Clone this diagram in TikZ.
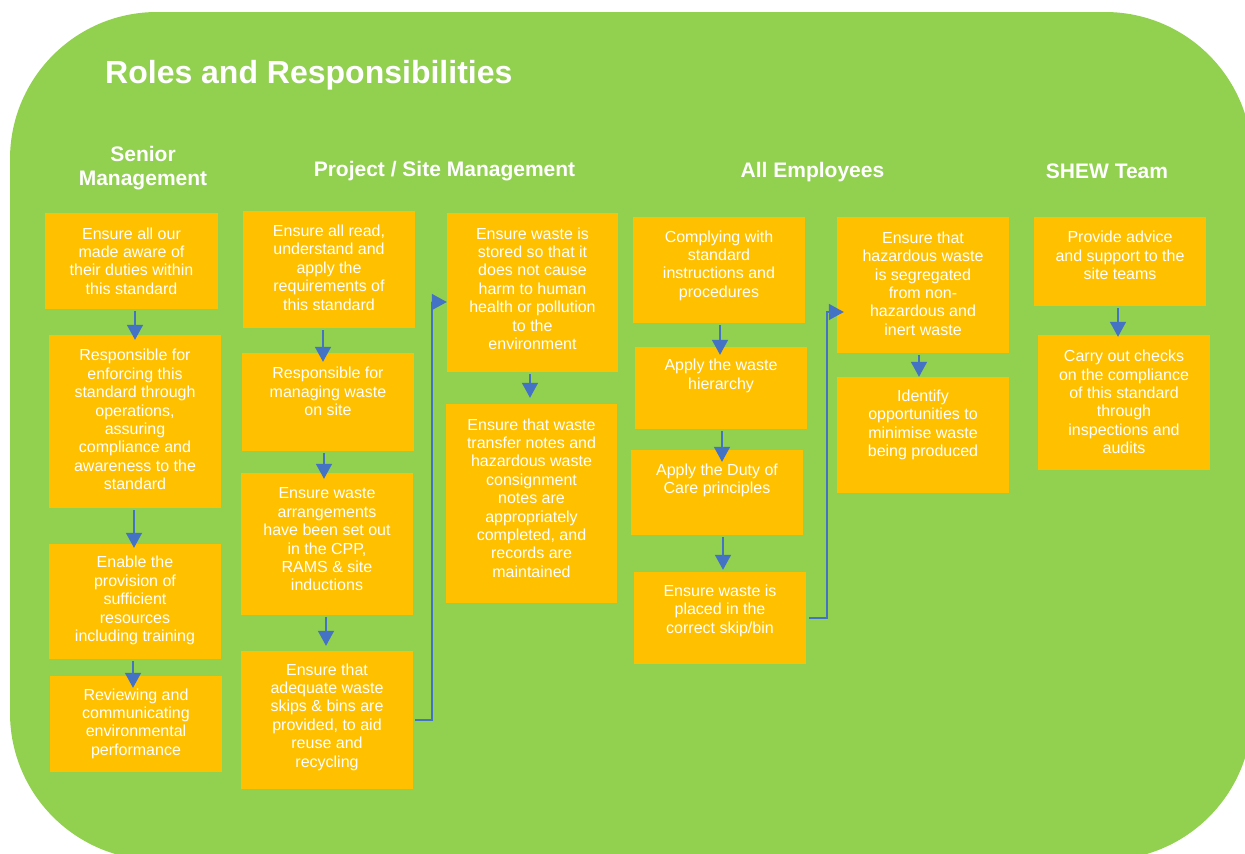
\documentclass[tikz,border=0pt]{standalone}
\usepackage{fontspec}
\setmainfont{Liberation Sans}
\usetikzlibrary{arrows.meta,calc}

\definecolor{leaf}{HTML}{92D050}
\definecolor{amber}{HTML}{FFC000}
\definecolor{linkblue}{HTML}{4472C4}

\tikzset{
  panel/.style={fill=leaf, rounded corners=147pt},
  box/.style={fill=amber, draw=none, inner sep=0pt},
  boxtext/.style={text=white, align=center, inner sep=0pt,
    font=\fontsize{16}{18.4}\selectfont},
  heading/.style={text=white, align=center, inner sep=0pt,
    font=\fontsize{21}{24}\selectfont\bfseries},
  pagetitle/.style={text=white, inner sep=0pt,
    font=\fontsize{32}{36}\selectfont\bfseries},
  link/.style={draw=linkblue, line width=1.5pt,
    -{Triangle[length=15pt,width=16pt]}},
}

% #1 name, #2 centre x, #3 centre y, #4 width, #5 height, #6 text centre y, #7 text
\newcommand\taskbox[7]{%
  \node[box, minimum width=#4pt, minimum height=#5pt] (#1) at (#2,#3) {};
  \node[boxtext] (#1t) at (#2,#6) {#7};}

% vertical arrow: #1 from, #2 to, #3 x offset at start, #4 x offset at end, #5 end shortening
\newcommand\flow[5]{%
  \draw[link, shorten <=2pt, shorten >=#5pt]
    ($(#1.south)+(#3,0)$) -- ($(#2.north)+(#4,0)$);}

\begin{document}
\begin{tikzpicture}[x=1pt, y=-1pt]
  \useasboundingbox (0,0) rectangle (1245,854);
  \clip (0,0) rectangle (1245,854);

  % green background panel
  \fill[panel] (10,12) rectangle (1252,860);

  % headings
  \node[pagetitle, anchor=base west] (title) at (105,83) {Roles and Responsibilities};
  \node[heading] (hSenior) at (143,168) {Senior\\Management};
  \node[heading, anchor=base] (hProject) at (444.5,176) {Project / Site Management};
  \node[heading, anchor=base] (hAll) at (812.5,177) {All Employees};
  \node[heading, anchor=base] (hShew) at (1107,178) {SHEW Team};

  % Senior Management
  \taskbox{S1}{131.5}{261}{173}{96}{261}{Ensure all our\\made aware of\\their duties within\\this standard}
  \taskbox{S2}{135}{421.5}{172}{173}{419.5}{Responsible for\\enforcing this\\standard through\\operations,\\assuring\\compliance and\\awareness to the\\standard}
  \taskbox{S3}{135}{601.5}{172}{115}{600.5}{Enable the\\provision of\\sufficient\\resources\\including training}
  \taskbox{S4}{136}{724}{172}{96}{723.5}{Reviewing and\\communicating\\environmental\\performance}

  % Project / Site Management
  \taskbox{P1}{329}{269.5}{172}{117}{267.5}{Ensure all read,\\understand and\\apply the\\requirements of\\this standard}
  \taskbox{P2}{328}{402}{172}{98}{391.5}{Responsible for\\managing waste\\on site}
  \taskbox{P3}{327}{544}{172}{142}{539.5}{Ensure waste\\arrangements\\have been set out\\in the CPP,\\RAMS \& site\\inductions}
  \taskbox{P4}{327}{720}{172}{138}{717}{Ensure that\\adequate waste\\skips \& bins are\\provided, to aid\\reuse and\\recycling}
  \taskbox{E1}{532.5}{292.5}{171}{159}{288.5}{Ensure waste is\\stored so that it\\does not cause\\harm to human\\health or pollution\\to the\\environment}
  \taskbox{E2}{531.5}{503.5}{171}{199}{498}{Ensure that waste\\transfer notes and\\hazardous waste\\consignment\\notes are\\appropriately\\completed, and\\records are\\maintained}

  % All Employees
  \taskbox{A1}{719}{270}{172}{106}{265.5}{Complying with\\standard\\instructions and\\procedures}
  \taskbox{A2}{721}{388}{172}{82}{376}{Apply the waste\\hierarchy}
  \taskbox{A3}{717}{492.5}{172}{85}{480.5}{Apply the Duty of\\Care principles}
  \taskbox{A4}{720}{618}{172}{92}{610.5}{Ensure waste is\\placed in the\\correct skip/bin}
  \taskbox{H1}{923}{285}{172}{136}{283.5}{Ensure that\\hazardous waste\\is segregated\\from non-\\hazardous and\\inert waste}
  \taskbox{H2}{923}{435}{172}{116}{425}{Identify\\opportunities to\\minimise waste\\being produced}

  % SHEW Team
  \taskbox{T1}{1120}{261.5}{172}{89}{255.5}{Provide advice\\and support to the\\site teams}
  \taskbox{T2}{1124}{402.5}{172}{135}{402}{Carry out checks\\on the compliance\\of this standard\\through\\inspections and\\audits}

  % vertical flow arrows
  \flow{S1}{S2}{3.5}{0}{-5}
  \flow{S2}{S3}{-1}{-1}{-4}
  \flow{S3}{S4}{-2}{-3}{-12}
  \flow{P1}{P2}{-6}{-5}{-9}
  \flow{P2}{P3}{-4}{-3}{-6}
  \flow{P3}{P4}{-1}{-1}{5}
  \flow{E1}{E2}{-2.5}{-1.5}{6}
  \flow{A1}{A2}{1}{-1}{-8}
  \flow{A2}{A3}{1}{5}{-12}
  \flow{A3}{A4}{6}{3}{2}
  \flow{H1}{H2}{-4}{-4}{0}
  \flow{T1}{T2}{-2}{-6}{-2}

  % elbow connectors between columns
  \draw[link, shorten <=2pt] (P4.east) -- ++(19,0) |- ($(E1.west)+(0,9.5)$);
  \draw[link, shorten <=3pt, shorten >=-7pt] (A4.east) -- ++(21,0) |- ($(H1.west)+(0,27)$);
\end{tikzpicture}
\end{document}
